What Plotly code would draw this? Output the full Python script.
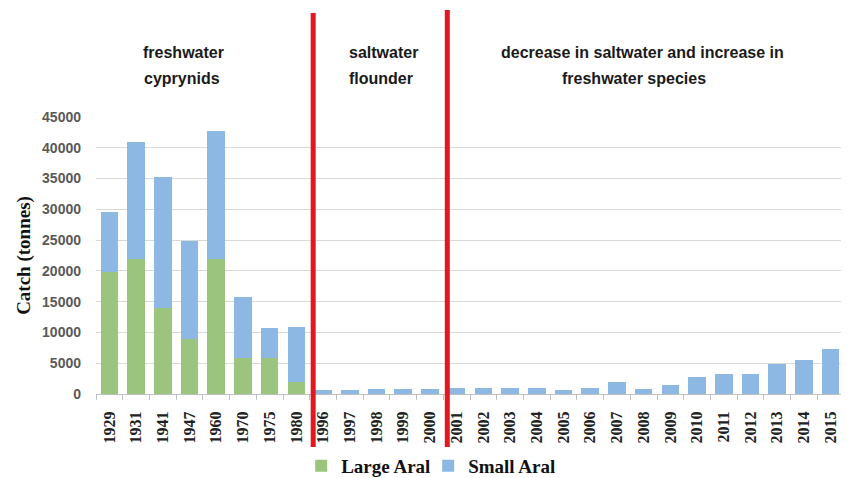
import plotly.graph_objects as go

categories = ["1929", "1931", "1941", "1947", "1960", "1970", "1975", "1980",
              "1996", "1997", "1998", "1999", "2000",
              "2001", "2002", "2003", "2004", "2005", "2006", "2007", "2008",
              "2009", "2010", "2011", "2012", "2013", "2014", "2015"]

large_aral = [19800, 22000, 14000, 9000, 22000, 5800, 5800, 2000,
              None, None, None, None, None,
              None, None, None, None, None, None, None, None,
              None, None, None, None, None, None, None]

small_aral = [9700, 19000, 21300, 15800, 20700, 10000, 4900, 8900,
              600, 600, 800, 800, 800,
              1000, 1000, 1000, 1000, 600, 1000, 1900, 800,
              1500, 2800, 3300, 3300, 4900, 5500, 7300]

y_ticks = [0, 5000, 10000, 15000, 20000, 25000, 30000, 35000, 40000, 45000]

period_labels = [
    ("freshwater", "cyprynids"),
    ("saltwater", "flounder"),
    ("decrease in saltwater and increase in", "freshwater species"),
]

GREEN = "#9BC47E"
BLUE = "#8DB8E3"
RED = "#E3171F"
SERIF = "Liberation Serif"

fig = go.Figure()
fig.add_trace(go.Bar(x=categories, y=large_aral, name="Large Aral",
                     marker=dict(color=GREEN, line=dict(width=0))))
fig.add_trace(go.Bar(x=categories, y=small_aral, name="Small Aral",
                     marker=dict(color=BLUE, line=dict(width=0))))

OFF = 8  # page body margin
W, H = 841, 470
ml, mt, mb = 88, 109, 84
pw = 747.6
mr = W - ml - pw
ph = H - mt - mb
ncat = len(categories)


def px_x(p):
    return (p - OFF - ml) / pw


def px_y(p):
    return (H - mb - (p - OFF)) / ph


def cat_paper(pos):
    # category axis spans [-0.5, n-0.5]
    return (pos + 0.5) / ncat


# red separators between the period groups
sep1 = categories.index("1996") - 0.37
sep2 = categories.index("2001") - 0.35
for xs, ytop in [(sep1, 13), (sep2, 10)]:
    xp = cat_paper(xs)
    fig.add_shape(type="line", xref="paper", yref="paper",
                  x0=xp, x1=xp, y0=px_y(452), y1=px_y(ytop),
                  line=dict(color=RED, width=5))

# period annotations (line centres in page pixels)
centers = [(183, 182), (383, 381), (642, 634)]
for (l1, l2), (c1, c2) in zip(period_labels, centers):
    for txt, cx, yy in [(l1, c1, 52), (l2, c2, 78)]:
        fig.add_annotation(text=txt, xref="paper", yref="paper",
                           x=px_x(cx), y=px_y(yy), showarrow=False,
                           xanchor="center", yanchor="middle",
                           font=dict(family="Liberation Sans", size=16,
                                     color="#1a1a1a", weight="bold"))

fig.update_layout(
    barmode="stack",
    bargap=0.34,
    width=W, height=H,
    margin=dict(l=ml, r=mr, t=mt, b=mb, autoexpand=False),
    plot_bgcolor="white",
    paper_bgcolor="white",
    showlegend=True,
    legend=dict(orientation="h", x=px_x(428), y=px_y(466),
                xanchor="center", yanchor="middle",
                font=dict(family=SERIF, size=19, color="#111111", weight="bold"),
                itemwidth=30, traceorder="normal",
                entrywidth=82, entrywidthmode="pixels"),
    xaxis=dict(type="category", showline=True, linecolor="#BFBFBF", linewidth=1,
               ticks="outside", tickson="boundaries", ticklen=5,
               tickcolor="#BFBFBF", tickangle=-90, ticklabelstandoff=10,
               tickfont=dict(family=SERIF, size=16, color="#222222", weight="bold"),
               showgrid=False, automargin=False),
    yaxis=dict(range=[0, 45000], tickvals=y_ticks, tickformat="d", showgrid=True,
               gridcolor="#D9D9D9", gridwidth=1, zeroline=False, showline=False,
               ticks="", ticklabelstandoff=14,
               tickfont=dict(family="Liberation Sans", size=14, color="#595959",
                             weight="bold"),
               title=dict(text="Catch (tonnes)", standoff=6,
                          font=dict(family=SERIF, size=19, color="#111111",
                                    weight="bold")),
               automargin=False),
)

fig.write_html("out.html")
